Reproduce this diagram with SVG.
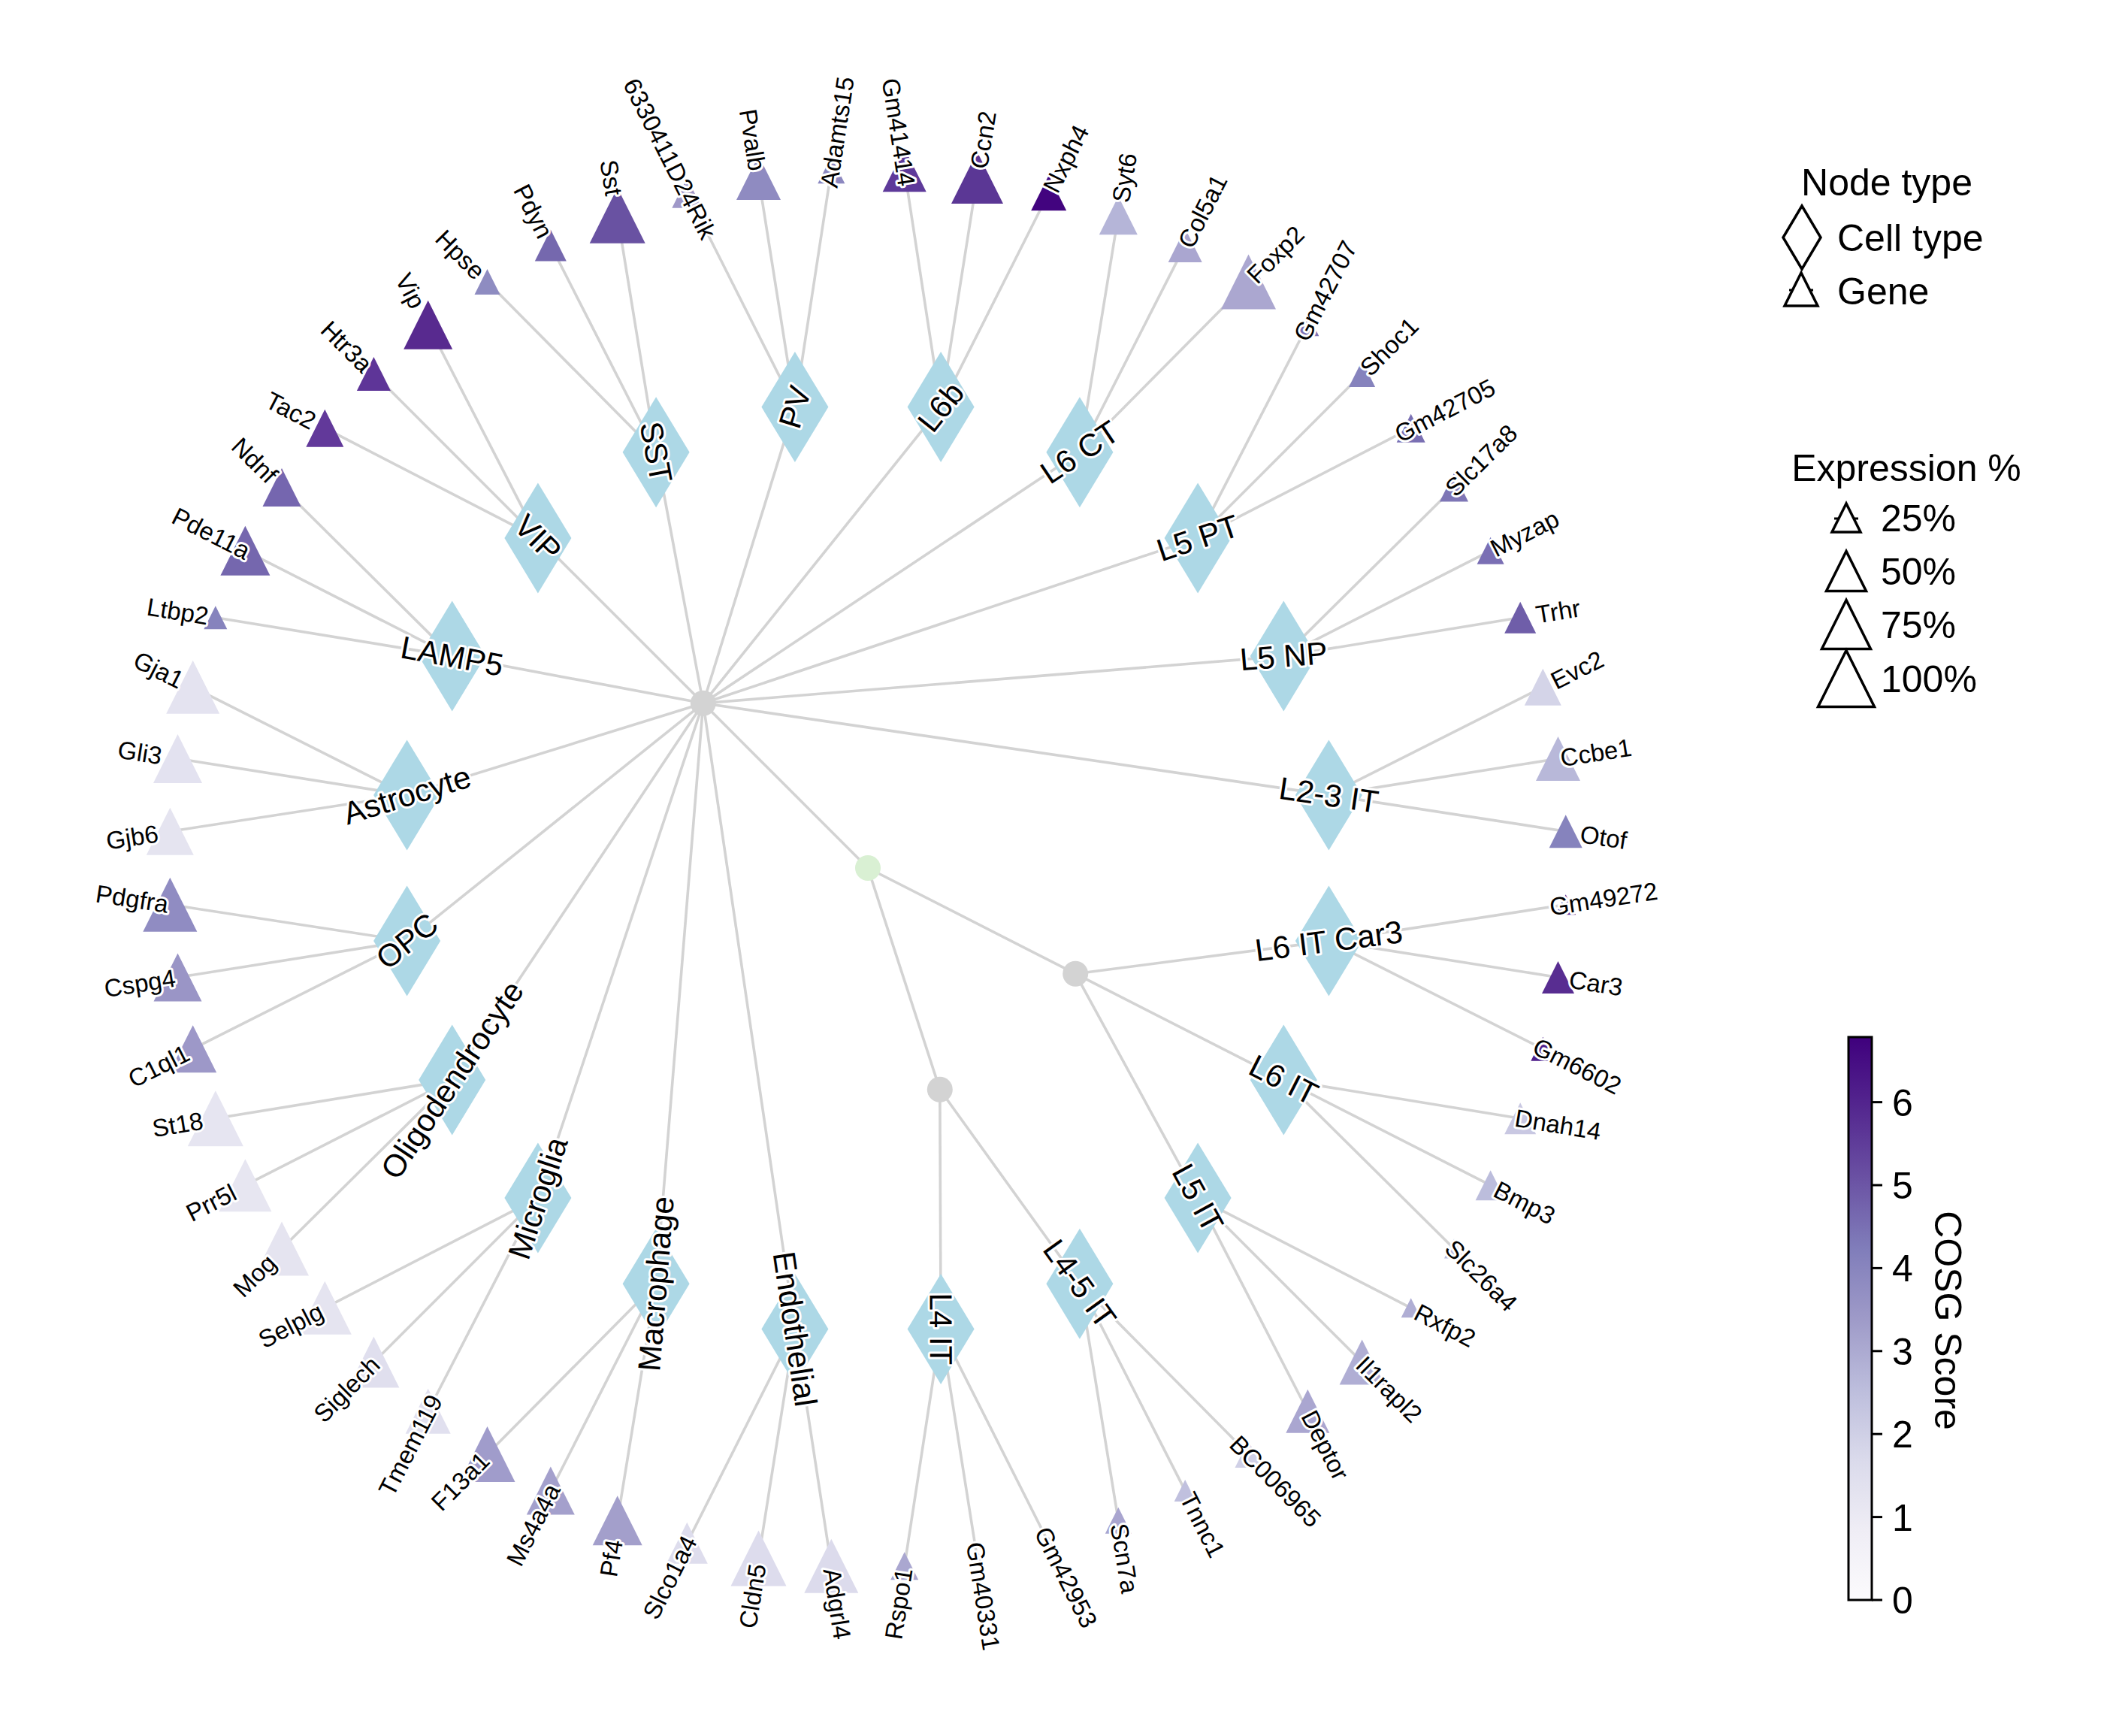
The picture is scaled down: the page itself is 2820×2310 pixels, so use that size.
<svg xmlns="http://www.w3.org/2000/svg" xmlns:xlink="http://www.w3.org/1999/xlink" width="2820" height="2310" viewBox="0 0 2820 2310">
<style>
.e{stroke:#d3d3d3;stroke-width:3.6;fill:none}
.dm{fill:#add8e6}
.gl,.cl{font-family:"Liberation Sans",Arial,sans-serif;text-anchor:middle;dominant-baseline:central;fill:#000;stroke:#fff;stroke-width:6;stroke-linejoin:round;paint-order:stroke}
.gl{font-size:33px}
.cl{font-size:42px}
.lg{font-family:"Liberation Sans",Arial,sans-serif;font-size:50px;fill:#000}
.lo{fill:#fff;stroke:#000;stroke-width:3.5;stroke-linejoin:miter}
.tk{stroke:#000;stroke-width:3}
</style>
<defs>
<polygon id="dia" points="0,-73.5 44.5,0 0,73.5 -44.5,0"/>
<polygon id="tri" points="0,-1 -1,1 1,1"/>
<linearGradient id="cmap" x1="0" y1="1" x2="0" y2="0">
<stop offset="0" stop-color="#fcfbfd"/><stop offset="0.125" stop-color="#efedf5"/><stop offset="0.25" stop-color="#dadaeb"/><stop offset="0.375" stop-color="#bcbddc"/><stop offset="0.5" stop-color="#9e9ac8"/><stop offset="0.625" stop-color="#807dba"/><stop offset="0.75" stop-color="#6a51a3"/><stop offset="0.875" stop-color="#54278f"/><stop offset="1" stop-color="#3f007d"/>
</linearGradient>
</defs>
<rect width="2820" height="2310" fill="#fff"/>
<g id="edges" class="e">
<line x1="935.8" y1="935.8" x2="1155" y2="1155"/>
<line x1="1155" y1="1155" x2="1431.2" y2="1295.7"/>
<line x1="1155" y1="1155" x2="1250.8" y2="1449.8"/>
<line x1="935.8" y1="935.8" x2="1252.1" y2="541.6"/>
<line x1="935.8" y1="935.8" x2="1436.9" y2="601.7"/>
<line x1="935.8" y1="935.8" x2="1594.1" y2="715.9"/>
<line x1="935.8" y1="935.8" x2="1708.3" y2="873.1"/>
<line x1="935.8" y1="935.8" x2="1768.4" y2="1057.9"/>
<line x1="935.8" y1="935.8" x2="1057.9" y2="1768.4"/>
<line x1="935.8" y1="935.8" x2="873.1" y2="1708.3"/>
<line x1="935.8" y1="935.8" x2="715.9" y2="1594.1"/>
<line x1="935.8" y1="935.8" x2="601.7" y2="1436.9"/>
<line x1="935.8" y1="935.8" x2="541.6" y2="1252.1"/>
<line x1="935.8" y1="935.8" x2="541.6" y2="1057.9"/>
<line x1="935.8" y1="935.8" x2="601.7" y2="873.1"/>
<line x1="935.8" y1="935.8" x2="715.9" y2="715.9"/>
<line x1="935.8" y1="935.8" x2="873.1" y2="601.7"/>
<line x1="935.8" y1="935.8" x2="1057.9" y2="541.6"/>
<line x1="1431.2" y1="1295.7" x2="1768.4" y2="1252.1"/>
<line x1="1431.2" y1="1295.7" x2="1708.3" y2="1436.9"/>
<line x1="1431.2" y1="1295.7" x2="1594.1" y2="1594.1"/>
<line x1="1250.8" y1="1449.8" x2="1436.9" y2="1708.3"/>
<line x1="1250.8" y1="1449.8" x2="1252.1" y2="1768.4"/>
<line x1="1252.1" y1="541.6" x2="1203.7" y2="226.3"/>
<line x1="1252.1" y1="541.6" x2="1300.5" y2="236.5"/>
<line x1="1252.1" y1="541.6" x2="1395.7" y2="256.7"/>
<line x1="1436.9" y1="601.7" x2="1488.3" y2="286.8"/>
<line x1="1436.9" y1="601.7" x2="1577.2" y2="326.4"/>
<line x1="1436.9" y1="601.7" x2="1661.5" y2="375.0"/>
<line x1="1594.1" y1="715.9" x2="1740.3" y2="432.3"/>
<line x1="1594.1" y1="715.9" x2="1812.6" y2="497.4"/>
<line x1="1594.1" y1="715.9" x2="1877.7" y2="569.7"/>
<line x1="1708.3" y1="873.1" x2="1935.0" y2="648.5"/>
<line x1="1708.3" y1="873.1" x2="1983.6" y2="732.8"/>
<line x1="1708.3" y1="873.1" x2="2023.2" y2="821.7"/>
<line x1="1768.4" y1="1057.9" x2="2053.3" y2="914.3"/>
<line x1="1768.4" y1="1057.9" x2="2073.5" y2="1009.5"/>
<line x1="1768.4" y1="1057.9" x2="2083.7" y2="1106.3"/>
<line x1="1768.4" y1="1252.1" x2="2083.7" y2="1203.7"/>
<line x1="1768.4" y1="1252.1" x2="2073.5" y2="1300.5"/>
<line x1="1768.4" y1="1252.1" x2="2053.3" y2="1395.7"/>
<line x1="1708.3" y1="1436.9" x2="2023.2" y2="1488.3"/>
<line x1="1708.3" y1="1436.9" x2="1983.6" y2="1577.2"/>
<line x1="1708.3" y1="1436.9" x2="1935.0" y2="1661.5"/>
<line x1="1594.1" y1="1594.1" x2="1877.7" y2="1740.3"/>
<line x1="1594.1" y1="1594.1" x2="1812.6" y2="1812.6"/>
<line x1="1594.1" y1="1594.1" x2="1740.3" y2="1877.7"/>
<line x1="1436.9" y1="1708.3" x2="1661.5" y2="1935.0"/>
<line x1="1436.9" y1="1708.3" x2="1577.2" y2="1983.6"/>
<line x1="1436.9" y1="1708.3" x2="1488.3" y2="2023.2"/>
<line x1="1252.1" y1="1768.4" x2="1395.7" y2="2053.3"/>
<line x1="1252.1" y1="1768.4" x2="1300.5" y2="2073.5"/>
<line x1="1252.1" y1="1768.4" x2="1203.7" y2="2083.7"/>
<line x1="1057.9" y1="1768.4" x2="1106.3" y2="2083.7"/>
<line x1="1057.9" y1="1768.4" x2="1009.5" y2="2073.5"/>
<line x1="1057.9" y1="1768.4" x2="914.3" y2="2053.3"/>
<line x1="873.1" y1="1708.3" x2="821.7" y2="2023.2"/>
<line x1="873.1" y1="1708.3" x2="732.8" y2="1983.6"/>
<line x1="873.1" y1="1708.3" x2="648.5" y2="1935.0"/>
<line x1="715.9" y1="1594.1" x2="569.7" y2="1877.7"/>
<line x1="715.9" y1="1594.1" x2="497.4" y2="1812.6"/>
<line x1="715.9" y1="1594.1" x2="432.3" y2="1740.3"/>
<line x1="601.7" y1="1436.9" x2="375.0" y2="1661.5"/>
<line x1="601.7" y1="1436.9" x2="326.4" y2="1577.2"/>
<line x1="601.7" y1="1436.9" x2="286.8" y2="1488.3"/>
<line x1="541.6" y1="1252.1" x2="256.7" y2="1395.7"/>
<line x1="541.6" y1="1252.1" x2="236.5" y2="1300.5"/>
<line x1="541.6" y1="1252.1" x2="226.3" y2="1203.7"/>
<line x1="541.6" y1="1057.9" x2="226.3" y2="1106.3"/>
<line x1="541.6" y1="1057.9" x2="236.5" y2="1009.5"/>
<line x1="541.6" y1="1057.9" x2="256.7" y2="914.3"/>
<line x1="601.7" y1="873.1" x2="286.8" y2="821.7"/>
<line x1="601.7" y1="873.1" x2="326.4" y2="732.8"/>
<line x1="601.7" y1="873.1" x2="375.0" y2="648.5"/>
<line x1="715.9" y1="715.9" x2="432.3" y2="569.7"/>
<line x1="715.9" y1="715.9" x2="497.4" y2="497.4"/>
<line x1="715.9" y1="715.9" x2="569.7" y2="432.3"/>
<line x1="873.1" y1="601.7" x2="648.5" y2="375.0"/>
<line x1="873.1" y1="601.7" x2="732.8" y2="326.4"/>
<line x1="873.1" y1="601.7" x2="821.7" y2="286.8"/>
<line x1="1057.9" y1="541.6" x2="914.3" y2="256.7"/>
<line x1="1057.9" y1="541.6" x2="1009.5" y2="236.5"/>
<line x1="1057.9" y1="541.6" x2="1106.3" y2="226.3"/>
</g>
<g id="inner-nodes">
<circle id="root" cx="935.8" cy="935.8" r="17" fill="#d3d3d3"/>
<circle id="hub" cx="1155" cy="1155" r="17" fill="#d9f0d3"/>
<circle id="hubA" cx="1431.2" cy="1295.7" r="17" fill="#d3d3d3"/>
<circle id="hubB" cx="1250.8" cy="1449.8" r="17" fill="#d3d3d3"/>
</g>
<g id="cell-types">
<g id="c-L6b"><use href="#dia" class="dm" x="1252.1" y="541.6"/><text class="cl" transform="translate(1252.1,541.6) rotate(-51.26)">L6b</text></g>
<g id="c-L6CT"><use href="#dia" class="dm" x="1436.9" y="601.7"/><text class="cl" transform="translate(1436.9,601.7) rotate(-33.69)">L6 CT</text></g>
<g id="c-L5PT"><use href="#dia" class="dm" x="1594.1" y="715.9"/><text class="cl" transform="translate(1594.1,715.9) rotate(-18.47)">L5 PT</text></g>
<g id="c-L5NP"><use href="#dia" class="dm" x="1708.3" y="873.1"/><text class="cl" transform="translate(1708.3,873.1) rotate(-4.64)">L5 NP</text></g>
<g id="c-L23IT"><use href="#dia" class="dm" x="1768.4" y="1057.9"/><text class="cl" transform="translate(1768.4,1057.9) rotate(8.34)">L2-3 IT</text></g>
<g id="c-L6ITCar3"><use href="#dia" class="dm" x="1768.4" y="1252.1"/><text class="cl" transform="translate(1768.4,1252.1) rotate(-7.37)">L6 IT Car3</text></g>
<g id="c-L6IT"><use href="#dia" class="dm" x="1708.3" y="1436.9"/><text class="cl" transform="translate(1708.3,1436.9) rotate(27)">L6 IT</text></g>
<g id="c-L5IT"><use href="#dia" class="dm" x="1594.1" y="1594.1"/><text class="cl" transform="translate(1594.1,1594.1) rotate(61.37)">L5 IT</text></g>
<g id="c-L45IT"><use href="#dia" class="dm" x="1436.9" y="1708.3"/><text class="cl" transform="translate(1436.9,1708.3) rotate(54.25)">L4-5 IT</text></g>
<g id="c-L4IT"><use href="#dia" class="dm" x="1252.1" y="1768.4"/><text class="cl" transform="translate(1252.1,1768.4) rotate(89.77)">L4 IT</text></g>
<g id="c-Endothelial"><use href="#dia" class="dm" x="1057.9" y="1768.4"/><text class="cl" transform="translate(1057.9,1768.4) rotate(81.66)">Endothelial</text></g>
<g id="c-Macrophage"><use href="#dia" class="dm" x="873.1" y="1708.3"/><text class="cl" transform="translate(873.1,1708.3) rotate(-85.36)">Macrophage</text></g>
<g id="c-Microglia"><use href="#dia" class="dm" x="715.9" y="1594.1"/><text class="cl" transform="translate(715.9,1594.1) rotate(-71.53)">Microglia</text></g>
<g id="c-Oligodendrocyte"><use href="#dia" class="dm" x="601.7" y="1436.9"/><text class="cl" transform="translate(601.7,1436.9) rotate(-56.31)">Oligodendrocyte</text></g>
<g id="c-OPC"><use href="#dia" class="dm" x="541.6" y="1252.1"/><text class="cl" transform="translate(541.6,1252.1) rotate(-38.74)">OPC</text></g>
<g id="c-Astrocyte"><use href="#dia" class="dm" x="541.6" y="1057.9"/><text class="cl" transform="translate(541.6,1057.9) rotate(-17.21)">Astrocyte</text></g>
<g id="c-LAMP5"><use href="#dia" class="dm" x="601.7" y="873.1"/><text class="cl" transform="translate(601.7,873.1) rotate(10.63)">LAMP5</text></g>
<g id="c-VIP"><use href="#dia" class="dm" x="715.9" y="715.9"/><text class="cl" transform="translate(715.9,715.9) rotate(45)">VIP</text></g>
<g id="c-SST"><use href="#dia" class="dm" x="873.1" y="601.7"/><text class="cl" transform="translate(873.1,601.7) rotate(79.37)">SST</text></g>
<g id="c-PV"><use href="#dia" class="dm" x="1057.9" y="541.6"/><text class="cl" transform="translate(1057.9,541.6) rotate(-72.79)">PV</text></g>
</g>
<g id="genes">
<g id="g-Gm41414"><use href="#tri" transform="translate(1203.7,226.3) scale(29)" fill="#5e3a9a"/><text class="gl" transform="translate(1196.0,175.9) rotate(81.26)">Gm41414</text></g>
<g id="g-Ccn2"><use href="#tri" transform="translate(1300.5,236.5) scale(34.5)" fill="#5b3795"/><text class="gl" transform="translate(1308.5,186.1) rotate(-81)">Ccn2</text></g>
<g id="g-Nxph4"><use href="#tri" transform="translate(1395.7,256.7) scale(23.5)" fill="#42047f"/><text class="gl" transform="translate(1418.6,211.2) rotate(-63.26)">Nxph4</text></g>
<g id="g-Syt6"><use href="#tri" transform="translate(1488.3,286.8) scale(25.5)" fill="#b5b5d8"/><text class="gl" transform="translate(1496.5,236.5) rotate(-80.74)">Syt6</text></g>
<g id="g-Col5a1"><use href="#tri" transform="translate(1577.2,326.4) scale(22.5)" fill="#aaa6d0"/><text class="gl" transform="translate(1600.4,281.0) rotate(-63)">Col5a1</text></g>
<g id="g-Foxp2"><use href="#tri" transform="translate(1661.5,375.0) scale(36.5)" fill="#aba7d0"/><text class="gl" transform="translate(1697.4,338.8) rotate(-45.26)">Foxp2</text></g>
<g id="g-Gm42707"><use href="#tri" transform="translate(1740.3,432.3) scale(15)" fill="#7b73b5"/><text class="gl" transform="translate(1763.7,387.0) rotate(-62.74)">Gm42707</text></g>
<g id="g-Shoc1"><use href="#tri" transform="translate(1812.6,497.4) scale(17.5)" fill="#8683bd"/><text class="gl" transform="translate(1848.7,461.3) rotate(-45)">Shoc1</text></g>
<g id="g-Gm42705"><use href="#tri" transform="translate(1877.7,569.7) scale(19)" fill="#7a70b3"/><text class="gl" transform="translate(1923.0,546.3) rotate(-27.26)">Gm42705</text></g>
<g id="g-Slc17a8"><use href="#tri" transform="translate(1935.0,648.5) scale(19)" fill="#7e76b6"/><text class="gl" transform="translate(1971.2,612.6) rotate(-44.74)">Slc17a8</text></g>
<g id="g-Myzap"><use href="#tri" transform="translate(1983.6,732.8) scale(18)" fill="#7a6fb4"/><text class="gl" transform="translate(2029.0,709.7) rotate(-27)">Myzap</text></g>
<g id="g-Trhr"><use href="#tri" transform="translate(2023.2,821.7) scale(21)" fill="#6f5ea9"/><text class="gl" transform="translate(2073.5,813.5) rotate(-9.26)">Trhr</text></g>
<g id="g-Evc2"><use href="#tri" transform="translate(2053.3,914.3) scale(24.5)" fill="#d4d4e8"/><text class="gl" transform="translate(2098.9,891.4) rotate(-26.74)">Evc2</text></g>
<g id="g-Ccbe1"><use href="#tri" transform="translate(2073.5,1009.5) scale(29.5)" fill="#b8b8d9"/><text class="gl" transform="translate(2123.9,1001.5) rotate(-9)">Ccbe1</text></g>
<g id="g-Otof"><use href="#tri" transform="translate(2083.7,1106.3) scale(22)" fill="#8683bd"/><text class="gl" transform="translate(2134.1,1114.1) rotate(8.74)">Otof</text></g>
<g id="g-Gm49272"><use href="#tri" transform="translate(2083.7,1203.7) scale(13.5)" fill="#5a3295"/><text class="gl" transform="translate(2134.1,1196.0) rotate(-8.74)">Gm49272</text></g>
<g id="g-Car3"><use href="#tri" transform="translate(2073.5,1300.5) scale(21.5)" fill="#582d91"/><text class="gl" transform="translate(2123.9,1308.5) rotate(9)">Car3</text></g>
<g id="g-Gm6602"><use href="#tri" transform="translate(2053.3,1395.7) scale(16)" fill="#4f1f8a"/><text class="gl" transform="translate(2098.9,1418.6) rotate(26.74)">Gm6602</text></g>
<g id="g-Dnah14"><use href="#tri" transform="translate(2023.2,1488.3) scale(21)" fill="#c9c8e2"/><text class="gl" transform="translate(2073.5,1496.5) rotate(9.26)">Dnah14</text></g>
<g id="g-Bmp3"><use href="#tri" transform="translate(1983.6,1577.2) scale(20)" fill="#bcbddc"/><text class="gl" transform="translate(2029.0,1600.4) rotate(27)">Bmp3</text></g>
<g id="g-Slc26a4"><use href="#tri" transform="translate(1935.0,1661.5) scale(13)" fill="#b5b5d8"/><text class="gl" transform="translate(1971.2,1697.4) rotate(44.74)">Slc26a4</text></g>
<g id="g-Rxfp2"><use href="#tri" transform="translate(1877.7,1740.3) scale(13)" fill="#b0aed4"/><text class="gl" transform="translate(1923.0,1763.7) rotate(27.26)">Rxfp2</text></g>
<g id="g-Il1rapl2"><use href="#tri" transform="translate(1812.6,1812.6) scale(30)" fill="#b0aed4"/><text class="gl" transform="translate(1848.7,1848.7) rotate(45)">Il1rapl2</text></g>
<g id="g-Deptor"><use href="#tri" transform="translate(1740.3,1877.7) scale(29)" fill="#aaa6d0"/><text class="gl" transform="translate(1763.7,1923.0) rotate(62.74)">Deptor</text></g>
<g id="g-BC006965"><use href="#tri" transform="translate(1661.5,1935.0) scale(18)" fill="#d0d0e6"/><text class="gl" transform="translate(1697.4,1971.2) rotate(45.26)">BC006965</text></g>
<g id="g-Tnnc1"><use href="#tri" transform="translate(1577.2,1983.6) scale(14.5)" fill="#c0c0de"/><text class="gl" transform="translate(1600.4,2029.0) rotate(63)">Tnnc1</text></g>
<g id="g-Scn7a"><use href="#tri" transform="translate(1488.3,2023.2) scale(17.5)" fill="#a9a5cf"/><text class="gl" transform="translate(1496.5,2073.5) rotate(80.74)">Scn7a</text></g>
<g id="g-Gm42953"><use href="#tri" transform="translate(1395.7,2053.3) scale(8.5)" fill="#d6d6ea"/><text class="gl" transform="translate(1418.6,2098.9) rotate(63.26)">Gm42953</text></g>
<g id="g-Gm40331"><use href="#tri" transform="translate(1300.5,2073.5) scale(10.5)" fill="#b7b6d9"/><text class="gl" transform="translate(1308.5,2123.9) rotate(81)">Gm40331</text></g>
<g id="g-Rspo1"><use href="#tri" transform="translate(1203.7,2083.7) scale(18.5)" fill="#aaa7d0"/><text class="gl" transform="translate(1196.0,2134.1) rotate(-81.26)">Rspo1</text></g>
<g id="g-Adgrl4"><use href="#tri" transform="translate(1106.3,2083.7) scale(36)" fill="#dcdbec"/><text class="gl" transform="translate(1114.1,2134.1) rotate(81.26)">Adgrl4</text></g>
<g id="g-Cldn5"><use href="#tri" transform="translate(1009.5,2073.5) scale(37)" fill="#dddced"/><text class="gl" transform="translate(1001.5,2123.9) rotate(-81)">Cldn5</text></g>
<g id="g-Slco1a4"><use href="#tri" transform="translate(914.3,2053.3) scale(27.5)" fill="#dedded"/><text class="gl" transform="translate(891.4,2098.9) rotate(-63.26)">Slco1a4</text></g>
<g id="g-Pf4"><use href="#tri" transform="translate(821.7,2023.2) scale(33)" fill="#a39fcb"/><text class="gl" transform="translate(813.5,2073.5) rotate(-80.74)">Pf4</text></g>
<g id="g-Ms4a4a"><use href="#tri" transform="translate(732.8,1983.6) scale(32)" fill="#a4a0cc"/><text class="gl" transform="translate(709.7,2029.0) rotate(-63)">Ms4a4a</text></g>
<g id="g-F13a1"><use href="#tri" transform="translate(648.5,1935.0) scale(37)" fill="#a09ccb"/><text class="gl" transform="translate(612.6,1971.2) rotate(-45.26)">F13a1</text></g>
<g id="g-Tmem119"><use href="#tri" transform="translate(569.7,1877.7) scale(30)" fill="#e1e0ef"/><text class="gl" transform="translate(546.3,1923.0) rotate(-62.74)">Tmem119</text></g>
<g id="g-Siglech"><use href="#tri" transform="translate(497.4,1812.6) scale(34)" fill="#e0dfee"/><text class="gl" transform="translate(461.3,1848.7) rotate(-45)">Siglech</text></g>
<g id="g-Selplg"><use href="#tri" transform="translate(432.3,1740.3) scale(35.5)" fill="#e5e4f0"/><text class="gl" transform="translate(387.0,1763.7) rotate(-27.26)">Selplg</text></g>
<g id="g-Mog"><use href="#tri" transform="translate(375.0,1661.5) scale(36)" fill="#e5e4f0"/><text class="gl" transform="translate(338.8,1697.4) rotate(-44.74)">Mog</text></g>
<g id="g-Prr5l"><use href="#tri" transform="translate(326.4,1577.2) scale(35)" fill="#e7e6f1"/><text class="gl" transform="translate(281.0,1600.4) rotate(-27)">Prr5l</text></g>
<g id="g-St18"><use href="#tri" transform="translate(286.8,1488.3) scale(37)" fill="#e6e5f1"/><text class="gl" transform="translate(236.5,1496.5) rotate(-9.26)">St18</text></g>
<g id="g-C1ql1"><use href="#tri" transform="translate(256.7,1395.7) scale(31.5)" fill="#9d98c8"/><text class="gl" transform="translate(211.2,1418.6) rotate(-26.74)">C1ql1</text></g>
<g id="g-Cspg4"><use href="#tri" transform="translate(236.5,1300.5) scale(32)" fill="#9a95c6"/><text class="gl" transform="translate(186.1,1308.5) rotate(-9)">Cspg4</text></g>
<g id="g-Pdgfra"><use href="#tri" transform="translate(226.3,1203.7) scale(36)" fill="#908cc2"/><text class="gl" transform="translate(175.9,1196.0) rotate(8.74)">Pdgfra</text></g>
<g id="g-Gjb6"><use href="#tri" transform="translate(226.3,1106.3) scale(31.5)" fill="#e5e4f0"/><text class="gl" transform="translate(175.9,1114.1) rotate(-8.74)">Gjb6</text></g>
<g id="g-Gli3"><use href="#tri" transform="translate(236.5,1009.5) scale(32.5)" fill="#e3e2f0"/><text class="gl" transform="translate(186.1,1001.5) rotate(9)">Gli3</text></g>
<g id="g-Gja1"><use href="#tri" transform="translate(256.7,914.3) scale(35.5)" fill="#e4e3f0"/><text class="gl" transform="translate(211.2,891.4) rotate(26.74)">Gja1</text></g>
<g id="g-Ltbp2"><use href="#tri" transform="translate(286.8,821.7) scale(15.5)" fill="#8683bd"/><text class="gl" transform="translate(236.5,813.5) rotate(9.26)">Ltbp2</text></g>
<g id="g-Pde11a"><use href="#tri" transform="translate(326.4,732.8) scale(33)" fill="#7567ae"/><text class="gl" transform="translate(281.0,709.7) rotate(27)">Pde11a</text></g>
<g id="g-Ndnf"><use href="#tri" transform="translate(375.0,648.5) scale(25.5)" fill="#7566af"/><text class="gl" transform="translate(338.8,612.6) rotate(44.74)">Ndnf</text></g>
<g id="g-Tac2"><use href="#tri" transform="translate(432.3,569.7) scale(25)" fill="#62399a"/><text class="gl" transform="translate(387.0,546.3) rotate(27.26)">Tac2</text></g>
<g id="g-Htr3a"><use href="#tri" transform="translate(497.4,497.4) scale(22.5)" fill="#5e3598"/><text class="gl" transform="translate(461.3,461.3) rotate(45)">Htr3a</text></g>
<g id="g-Vip"><use href="#tri" transform="translate(569.7,432.3) scale(32.5)" fill="#582a8f"/><text class="gl" transform="translate(546.3,387.0) rotate(62.74)">Vip</text></g>
<g id="g-Hpse"><use href="#tri" transform="translate(648.5,375.0) scale(17)" fill="#8e8cc1"/><text class="gl" transform="translate(612.6,338.8) rotate(45.26)">Hpse</text></g>
<g id="g-Pdyn"><use href="#tri" transform="translate(732.8,326.4) scale(21)" fill="#7568ae"/><text class="gl" transform="translate(709.7,281.0) rotate(63)">Pdyn</text></g>
<g id="g-Sst"><use href="#tri" transform="translate(821.7,286.8) scale(37)" fill="#6952a2"/><text class="gl" transform="translate(813.5,236.5) rotate(80.74)">Sst</text></g>
<g id="g-6330411D24Rik"><use href="#tri" transform="translate(914.3,256.7) scale(20)" fill="#9f98c8"/><text class="gl" transform="translate(891.4,211.2) rotate(63.26)">6330411D24Rik</text></g>
<g id="g-Pvalb"><use href="#tri" transform="translate(1009.5,236.5) scale(29.5)" fill="#8f8bc1"/><text class="gl" transform="translate(1001.5,186.1) rotate(81)">Pvalb</text></g>
<g id="g-Adamts15"><use href="#tri" transform="translate(1106.3,226.3) scale(18)" fill="#8c88c0"/><text class="gl" transform="translate(1114.1,175.9) rotate(-81.26)">Adamts15</text></g>
</g>
<g id="legend-node-type">
<text class="lg" x="2511" y="260" text-anchor="middle">Node type</text>
<polygon class="lo" points="2398,274 2423,316 2398,358 2373,316"/>
<text class="lg" x="2445" y="334">Cell type</text>
<line class="tk" x1="2381" y1="386" x2="2413" y2="386"/>
<polygon class="lo" points="2397,363 2375,407 2419,407"/>
<text class="lg" x="2445" y="405">Gene</text>
</g>
<g id="legend-expression">
<text class="lg" x="2537" y="640" text-anchor="middle">Expression %</text>
<line class="tk" x1="2441" y1="690" x2="2473" y2="690"/>
<polygon class="lo" points="2457,670 2438,708 2476,708"/>
<text class="lg" x="2503" y="707">25%</text>
<polygon class="lo" points="2457,733.5 2430.5,786.5 2483.5,786.5"/>
<text class="lg" x="2503" y="778">50%</text>
<polygon class="lo" points="2457,798.5 2424.5,863.5 2489.5,863.5"/>
<text class="lg" x="2503" y="849">75%</text>
<polygon class="lo" points="2457,865.5 2419.5,940.5 2494.5,940.5"/>
<text class="lg" x="2503" y="921">100%</text>
</g>
<g id="colorbar">
<rect x="2460" y="1380" width="31" height="749" fill="url(#cmap)" stroke="#000" stroke-width="3"/>
<g class="tk">
<line x1="2491" y1="2129" x2="2505" y2="2129"/>
<line x1="2491" y1="2018.6" x2="2505" y2="2018.6"/>
<line x1="2491" y1="1908.2" x2="2505" y2="1908.2"/>
<line x1="2491" y1="1797.8" x2="2505" y2="1797.8"/>
<line x1="2491" y1="1687.4" x2="2505" y2="1687.4"/>
<line x1="2491" y1="1577" x2="2505" y2="1577"/>
<line x1="2491" y1="1466.6" x2="2505" y2="1466.6"/>
</g>
<text class="lg" x="2518" y="2147">0</text>
<text class="lg" x="2518" y="2036.6">1</text>
<text class="lg" x="2518" y="1926.2">2</text>
<text class="lg" x="2518" y="1815.8">3</text>
<text class="lg" x="2518" y="1705.4">4</text>
<text class="lg" x="2518" y="1595">5</text>
<text class="lg" x="2518" y="1484.6">6</text>
<text class="lg" text-anchor="middle" transform="translate(2575,1757) rotate(90)">COSG Score</text>
</g>
</svg>
